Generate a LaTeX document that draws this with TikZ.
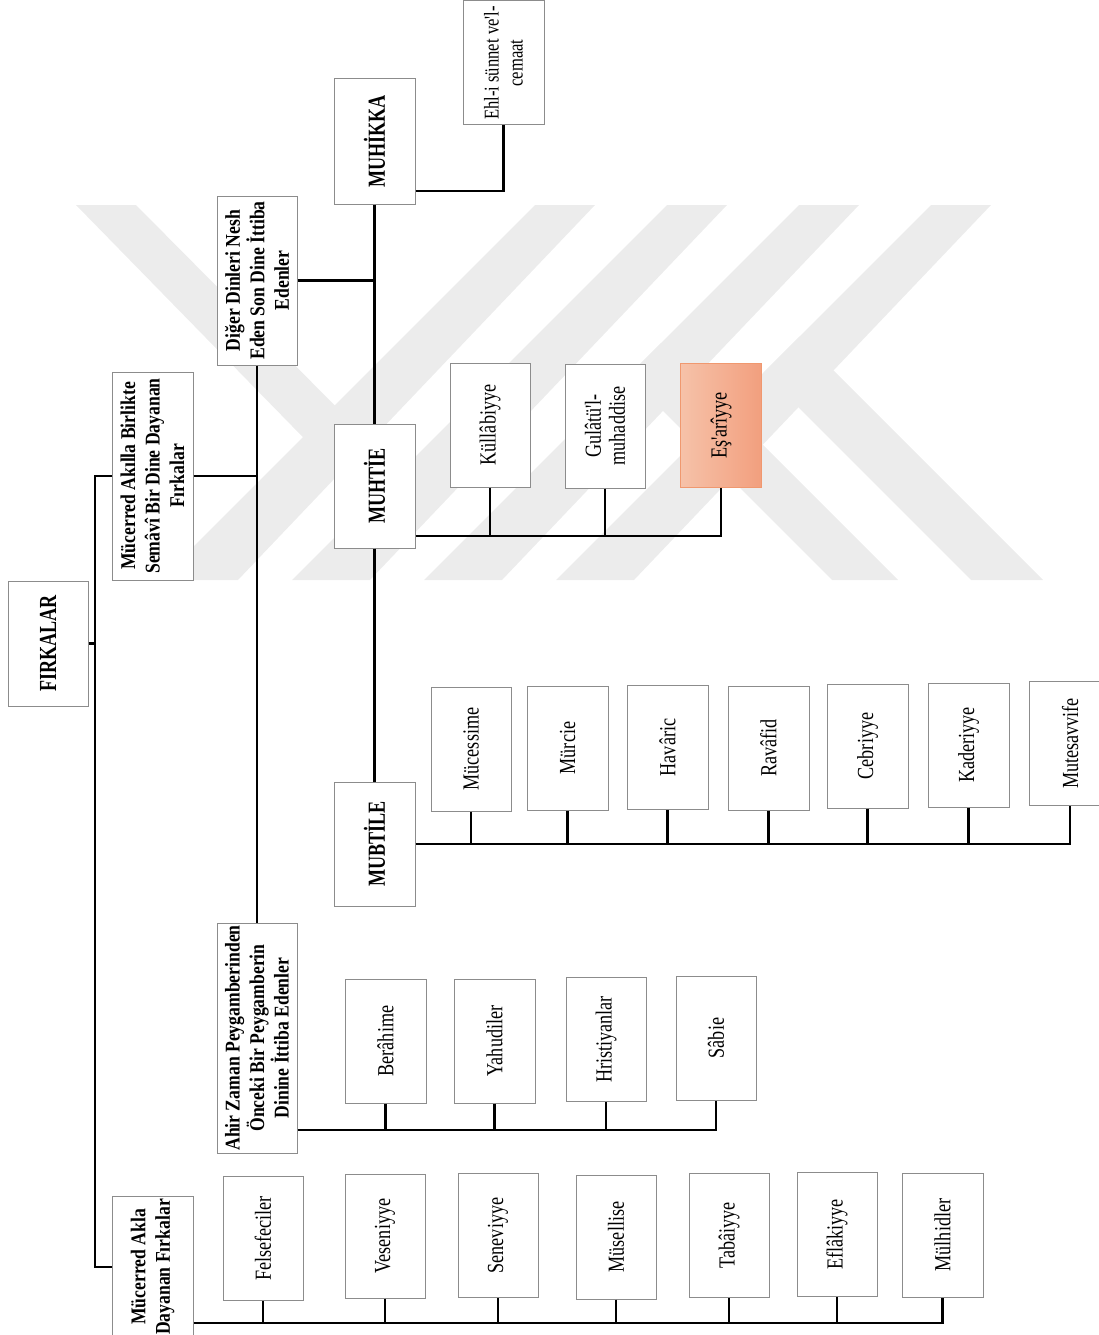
\documentclass[tikz,border=0pt]{standalone}
\usepackage{fontspec}
\setmainfont{Liberation Serif}
\newfontfamily\headfont{Liberation Serif}[FakeStretch=0.74]
\newfontfamily\multifont{Liberation Serif}[FakeStretch=0.84]
\newfontfamily\bodyfont{Liberation Serif}[FakeStretch=0.79]
\usetikzlibrary{calc}
\definecolor{boxgray}{HTML}{8C8C8C}
\definecolor{wmgray}{HTML}{ECECEC}
\definecolor{orlight}{HTML}{F6C2A9}
\definecolor{ordark}{HTML}{F29F7E}
\definecolor{orline}{HTML}{F0986F}
\tikzset{
  box/.style={draw=boxgray, line width=1pt, fill=white, rotate=90, inner sep=2pt,
    align=center, minimum width=124pt, minimum height=81pt,
    font=\bodyfont\fontsize{23}{24}\selectfont},
  headbox/.style={box, font=\headfont\bfseries\fontsize{24.5}{28}\selectfont},
  multibox/.style={box, font=\multifont\bfseries\fontsize{21}{24.5}\selectfont},
  conn/.style={line width=2.4pt, black},
  wm/.style={fill=wmgray, draw=none}
}
\begin{document}
\begin{tikzpicture}[x=1pt,y=-1pt]
\useasboundingbox (0,0) rectangle (1099,1335);
% watermark
\fill[wm] (535,205) -- (595,205) -- (238,580) -- (160,580) -- cycle;
\fill[wm] (667,205) -- (727,205) -- (370,580) -- (292,580) -- cycle;
\fill[wm] (799,205) -- (859,205) -- (502,580) -- (424,580) -- cycle;
\fill[wm] (931,205) -- (991,205) -- (634,580) -- (556,580) -- cycle;
\fill[wm] (76,205) -- (136,205) -- (370,441) -- (335,470) -- cycle;
\fill[wm] (661,343) -- (898,580) -- (832,580) -- (628,376) -- cycle;
\fill[wm] (799.5,336.5) -- (1043,580) -- (971,580) -- (763.5,372.5) -- cycle;

% level 0 and 1
\node[headbox, minimum width=125pt, minimum height=80pt] (firkalar) at (48,643.5) {FIRKALAR};
\node[multibox, minimum width=208pt] (mak1) at (152.5,476) {Mücerred Akılla Birlikte\\Semâvî Bir Dine Dayanan\\Fırkalar};
\node[multibox, minimum width=142pt] (mak2) at (152.5,1267) {Mücerred Akla\\Dayanan Fırkalar};
% level 2
\node[multibox, minimum width=169pt, minimum height=80pt] (diger) at (257,280.5) {Diğer Dinleri Nesh\\Eden Son Dine İttiba\\Edenler};
\node[multibox, minimum width=230pt, minimum height=80pt] (ahir) at (257,1038) {Ahir Zaman Peygamberinden\\Önceki Bir Peygamberin\\Dinine İttiba Edenler};
% level 3
\node[headbox, minimum width=125pt] (muhikka) at (374.5,141.5) {MUHİKKA};
\node[headbox, minimum width=124pt] (muhtie) at (374.5,486) {MUHTİE};
\node[headbox, minimum width=124pt] (mubtile) at (374.5,844) {MUBTİLE};
% children
\node[box, font=\bodyfont\fontsize{21}{24}\selectfont] (ehl) at (503.5,63) {Ehl-i sünnet ve'l-\\cemaat};
\node[box, minimum height=80pt] (kull) at (490,425) {Küllâbiyye};
\node[box, minimum height=80pt] (gulatu) at (605,426) {Gulâtü'l-\\muhaddise};
\node[box, draw=orline, left color=orlight, right color=ordark] (esari) at (721,425.5) {Eş'arîyye};

\node[box, minimum height=80pt] (mucessime) at (471,749) {Mücessime};
\node[box] (murcie) at (567.5,748) {Mürcie};
\node[box] (havaric) at (667.5,747.5) {Havâric};
\node[box] (ravafid) at (768.5,748) {Ravâfid};
\node[box] (cebriyye) at (867.5,746) {Cebriyye};
\node[box] (kaderiyye) at (968.5,745) {Kaderiyye};
\node[box] (mutesavvife) at (1070,743.5) {Mutesavvife};

\node[box] (berahime) at (385.5,1041) {Berâhime};
\node[box] (yahudiler) at (494.5,1041) {Yahudiler};
\node[box, minimum height=80pt] (hristiyanlar) at (606,1039.5) {Hristiyanlar};
\node[box, minimum height=80pt] (sabie) at (716,1038) {Sâbie};

\node[box, minimum height=80pt] (felsefe) at (263,1238.5) {Felsefeciler};
\node[box, minimum height=80pt] (veseni) at (385,1236) {Veseniyye};
\node[box, minimum height=80pt] (seneviyye) at (498,1235.5) {Seneviyye};
\node[box, minimum height=80pt] (musellise) at (616,1237) {Müsellise};
\node[box, minimum height=80pt] (tabaiyye) at (729,1235.5) {Tabâiyye};
\node[box, minimum height=80pt] (eflakiyye) at (837,1234.5) {Eflâkiyye};
\node[box] (mulhidler) at (942.5,1235) {Mülhidler};

% bus levels
\coordinate (trA) at (95,476);
\coordinate (trB) at (95,1267);
\coordinate (yMk) at (0,191);
\coordinate (yMt) at (0,536);
\coordinate (yAh) at (0,1130);
\coordinate (yMa) at (0,1323);

% connectors
\draw[conn] (mak1.north) -- (trA) -- (trB) -- (mak2.north);
\draw[conn] (firkalar.south) -- (firkalar.south -| trA);
\draw[conn] (mak1.south) -- (mak1.south -| diger.west);
\draw[conn] (diger.west) -- (ahir.east);
\draw[conn] (diger.south) -- (diger.south -| muhikka.west);
\draw[conn] (muhikka.west) -- (muhtie.east);
\draw[conn] (muhtie.west) -- (mubtile.east);
\draw[conn] (muhikka.south |- yMk) -| (ehl.west);
\draw[conn] (muhtie.south |- yMt) -| (esari.west);
\foreach \n in {kull,gulatu} \draw[conn] (\n.west) -- (\n.west |- yMt);
\draw[conn] (mubtile.south) -| (mutesavvife.west);
\foreach \n in {mucessime,murcie,havaric,ravafid,cebriyye,kaderiyye} \draw[conn] (\n.west) -- (\n.west |- mubtile.south);
\draw[conn] (ahir.south |- yAh) -| (sabie.west);
\foreach \n in {berahime,yahudiler,hristiyanlar} \draw[conn] (\n.west) -- (\n.west |- yAh);
\draw[conn] (mak2.south |- yMa) -| (mulhidler.west);
\foreach \n in {felsefe,veseni,seneviyye,musellise,tabaiyye,eflakiyye} \draw[conn] (\n.west) -- (\n.west |- yMa);
\end{tikzpicture}
\end{document}
